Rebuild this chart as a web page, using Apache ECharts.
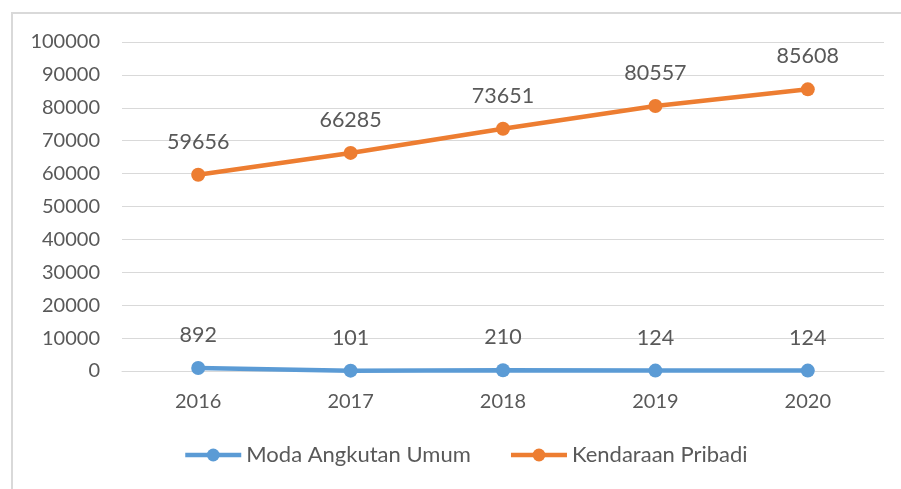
<!DOCTYPE html>
<html>
<head>
<meta charset="utf-8">
<script src="https://cdn.jsdelivr.net/npm/echarts@6/dist/echarts.min.js"></script>
<style>
  html, body { margin: 0; padding: 0; background: #fff; }
  #frame { position: absolute; left: 11px; top: 12px; width: 890px; height: 477px;
           border-top: 2px solid #d9d9d9; border-left: 2px solid #d9d9d9; box-sizing: border-box; }
  #chart { position: absolute; left: 0; top: 0; width: 901px; height: 489px; }
</style>
</head>
<body>
<div id="frame"></div>
<div id="chart"></div>
<script>
// data
var years = ['2016', '2017', '2018', '2019', '2020'];
var umum = [892, 101, 210, 124, 124];
var pribadi = [59656, 66285, 73651, 80557, 85608];

var chartDom = document.getElementById('chart');
var myChart = echarts.init(chartDom, null, { renderer: 'canvas' });

var textColor = '#595959';
var fontFam = 'Lato, "Open Sans", sans-serif';

function lineSeries(name, data, color) {
    return {
        name: name,
        type: 'line',
        data: data,
        symbol: 'circle',
        symbolSize: 14,
        lineStyle: { color: color, width: 4.5 },
        itemStyle: { color: color },
        label: {
            show: true,
            position: 'top',
            distance: 15,
            color: textColor,
            fontSize: 21.5,
            fontFamily: fontFam
        }
    };
}

var option = {
    animation: false,
    grid: { left: 122, right: 17, top: 42, bottom: 118 },
    legend: {
        top: 439,
        left: 178,
        itemWidth: 56,
        itemHeight: 16,
        itemGap: 38,
        lineStyle: { width: 4.5 },
        textStyle: { color: textColor, fontSize: 22, fontFamily: fontFam },
        data: ['Moda Angkutan Umum', 'Kendaraan Pribadi']
    },
    xAxis: {
        type: 'category',
        data: years,
        axisLine: { lineStyle: { color: '#d9d9d9' } },
        axisTick: { show: false },
        axisLabel: { color: textColor, fontSize: 20, fontFamily: fontFam, margin: 21 }
    },
    yAxis: {
        type: 'value',
        min: 0,
        max: 100000,
        interval: 10000,
        axisLine: { show: false },
        axisTick: { show: false },
        splitLine: { lineStyle: { color: '#d9d9d9', width: 1 } },
        axisLabel: {
            color: textColor, fontSize: 20, fontFamily: fontFam, margin: 22,
            formatter: function (v) { return String(v); }
        }
    },
    series: [
        lineSeries('Moda Angkutan Umum', umum, '#5B9BD5'),
        lineSeries('Kendaraan Pribadi', pribadi, '#ED7D31')
    ]
};

option && myChart.setOption(option);
</script>
</body>
</html>
